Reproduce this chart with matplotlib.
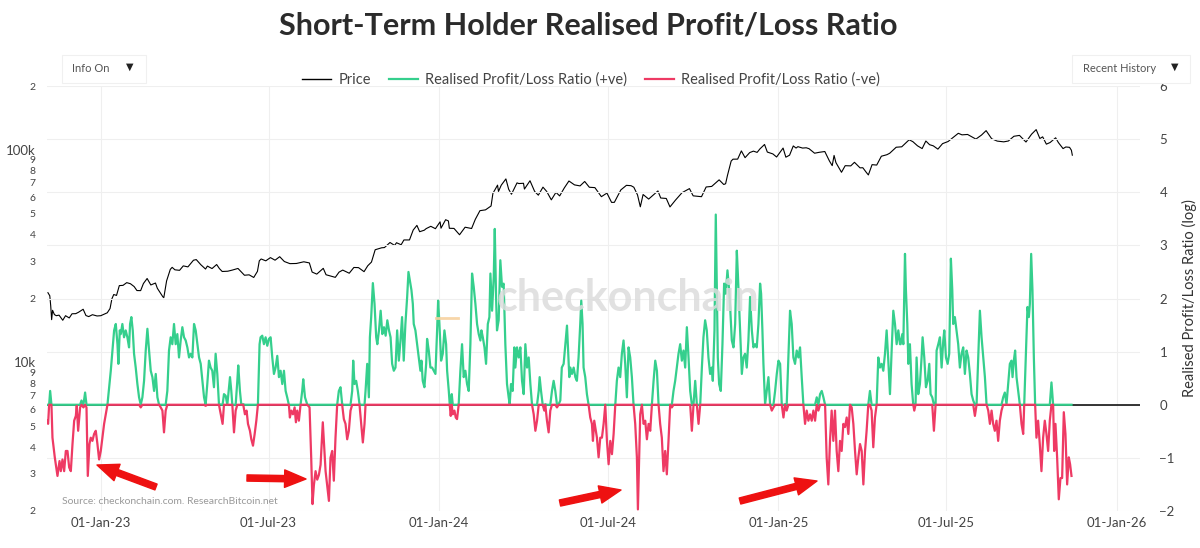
import numpy as np
import pandas as pd
import matplotlib
matplotlib.use("Agg")
import matplotlib.pyplot as plt
from matplotlib.lines import Line2D
from matplotlib.patches import FancyBboxPatch

plt.rcParams['font.family'] = ['Lato', 'DejaVu Sans']

# ---------------- data ----------------
price_dates = [
 "2022-11-05","2022-11-07","2022-11-08","2022-11-09","2022-11-10","2022-11-12","2022-11-14","2022-11-17",
 "2022-11-21","2022-11-24","2022-11-28","2022-12-01","2022-12-05","2022-12-08","2022-12-13","2022-12-16",
 "2022-12-19","2022-12-23","2022-12-28","2023-01-01","2023-01-08","2023-01-11","2023-01-13","2023-01-15",
 "2023-01-18","2023-01-21","2023-01-25","2023-01-29","2023-02-02","2023-02-06","2023-02-09","2023-02-13",
 "2023-02-16","2023-02-20","2023-02-24","2023-03-01","2023-03-03","2023-03-09","2023-03-10","2023-03-13",
 "2023-03-17","2023-03-19","2023-03-22","2023-03-27","2023-03-31","2023-04-05","2023-04-11","2023-04-14",
 "2023-04-19","2023-04-24","2023-04-26","2023-05-01","2023-05-06","2023-05-09","2023-05-12","2023-05-18",
 "2023-05-23","2023-05-29","2023-06-01","2023-06-05","2023-06-10","2023-06-15","2023-06-19","2023-06-21",
 "2023-06-23","2023-06-28","2023-07-03","2023-07-08","2023-07-13","2023-07-18","2023-07-24","2023-07-31",
 "2023-08-08","2023-08-14","2023-08-17","2023-08-22","2023-08-29","2023-09-01","2023-09-11","2023-09-15",
 "2023-09-19","2023-09-26","2023-10-01","2023-10-06","2023-10-12","2023-10-16","2023-10-20","2023-10-24",
 "2023-10-31","2023-11-03","2023-11-09","2023-11-14","2023-11-16","2023-11-21","2023-11-24","2023-11-30",
 "2023-12-04","2023-12-08","2023-12-11","2023-12-16","2023-12-18","2023-12-23","2023-12-28","2024-01-02",
 "2024-01-03","2024-01-08","2024-01-11","2024-01-12","2024-01-17","2024-01-23","2024-01-29","2024-02-05",
 "2024-02-09","2024-02-14","2024-02-20","2024-02-26","2024-02-28","2024-03-04","2024-03-05","2024-03-08",
 "2024-03-13","2024-03-16","2024-03-19","2024-03-25","2024-03-27","2024-04-01","2024-04-02","2024-04-08",
 "2024-04-13","2024-04-17","2024-04-22","2024-04-26","2024-05-01","2024-05-06","2024-05-10","2024-05-15",
 "2024-05-20","2024-05-26","2024-06-01","2024-06-06","2024-06-11","2024-06-17","2024-06-24","2024-06-30",
 "2024-07-05","2024-07-08","2024-07-15","2024-07-21","2024-07-26","2024-07-29","2024-08-02","2024-08-05",
 "2024-08-08","2024-08-14","2024-08-24","2024-08-27","2024-09-02","2024-09-06","2024-09-12","2024-09-19",
 "2024-09-27","2024-10-01","2024-10-10","2024-10-15","2024-10-21","2024-10-29","2024-11-03","2024-11-05",
 "2024-11-07","2024-11-11","2024-11-13","2024-11-18","2024-11-22","2024-11-26","2024-12-01","2024-12-05",
 "2024-12-09","2024-12-12","2024-12-17","2024-12-20","2024-12-26","2024-12-30","2025-01-06","2025-01-09",
 "2025-01-13","2025-01-17","2025-01-20","2025-01-22","2025-01-27","2025-01-31","2025-02-03","2025-02-09",
 "2025-02-14","2025-02-20","2025-02-25","2025-02-28","2025-03-02","2025-03-04","2025-03-10","2025-03-14",
 "2025-03-20","2025-03-24","2025-03-30","2025-04-02","2025-04-06","2025-04-08","2025-04-12","2025-04-17",
 "2025-04-22","2025-04-28","2025-05-01","2025-05-08","2025-05-14","2025-05-22","2025-05-26","2025-05-31",
 "2025-06-05","2025-06-09","2025-06-13","2025-06-17","2025-06-22","2025-06-27","2025-07-03","2025-07-10",
 "2025-07-14","2025-07-18","2025-07-24","2025-08-02","2025-08-08","2025-08-13","2025-08-19","2025-08-25",
 "2025-09-01","2025-09-06","2025-09-12","2025-09-18","2025-09-25","2025-10-01","2025-10-06","2025-10-10",
 "2025-10-13","2025-10-17","2025-10-21","2025-10-27","2025-10-30","2025-11-04","2025-11-07","2025-11-11",
 "2025-11-13","2025-11-14"]
price_vals = [
 21300,20600,18500,15900,17600,16800,16600,16700,15800,16600,16200,16950,16970,17230,17800,16630,
 16440,16780,16550,16600,17130,17940,19930,20880,20680,23000,23060,23750,23470,22760,21800,21780,
 23520,24840,23160,23650,22350,20360,20190,24200,27420,28030,27290,27140,28480,28170,30280,30490,
 28820,27520,28420,27660,28900,27650,26800,26880,27220,27700,26820,25730,25850,25120,26840,30080,
 30690,30080,31150,30290,31460,29860,29180,29230,29770,29410,26630,26050,27730,25870,25150,26610,
 27210,26300,27990,27950,26750,28520,29680,33920,34650,34730,36690,35540,36600,35800,37720,37720,
 41980,44170,41240,41930,42650,43720,42610,45900,42850,46970,46340,42800,42740,39900,43300,42700,
 47150,51800,52260,54500,62500,68300,63800,68300,73080,65320,61900,70000,69500,69700,65460,71640,
 63820,61280,66840,63800,58250,63160,60790,66270,71450,68500,67750,71080,66760,66500,60280,62680,
 56660,56700,64870,68160,67910,66780,61400,54020,61710,58740,64160,59420,59130,53950,58130,62950,
 65790,60840,60270,66960,67370,72340,68780,69360,75860,88700,90500,90550,98990,91990,97200,98750,
 97400,101140,106140,97760,95800,92640,102080,92480,94520,104460,102100,103650,102080,102400,101400,96540,
 97500,98330,88740,84370,94250,87200,78530,84340,84170,87500,82380,82500,78200,76300,85290,84900,
 93440,95000,96500,103000,103500,111700,109400,104600,101500,110200,105900,104600,100900,107100,109600,116000,
 119800,117800,118300,112500,117500,123300,112900,110100,109200,110200,116000,117100,109000,118600,124700,113200,
 115300,106500,108400,114100,108300,101500,103300,102900,99700,94500]

# ratio (log) readings: days since 2023-01-01
ratio_base = "2023-01-01"
ratio_days = [
 -58.2,-56.8,-55.7,-54.6,-53.2,-52.1,-49.6,-46.7,-44.5,-43.1,-41.3,-39.5,-37.7,-35.9,-34.1,-32.3,-30.5,-28.7,
 -26.9,-25.9,-24.4,-22.3,-20.8,-18.7,-16.9,-15.4,-14.0,-12.2,-10.8,-9.0,-7.2,-5.4,-3.6,-1.8,0.0,1.8,3.6,5.4,
 7.2,9.0,10.8,12.6,14.4,16.2,18.0,19.0,20.5,21.6,23.3,25.1,26.9,28.7,30.5,31.6,33.0,34.5,35.9,37.7,39.5,41.3,
 43.1,44.9,46.7,48.5,50.3,52.1,53.9,55.7,57.5,59.3,61.1,62.9,64.7,66.5,68.2,70.0,71.8,73.6,75.4,77.2,79.0,
 80.8,82.6,84.4,86.2,88.0,89.8,91.6,93.4,95.2,97.0,98.8,100.6,102.4,104.2,106.0,107.8,109.6,111.4,113.1,
 114.9,116.7,118.5,120.3,122.1,123.9,125.7,127.5,
 131.4,132.9,134.7,136.5,139.4,140.8,141.9,143.7,145.5,147.3,148.3,150.1,151.6,153.7,155.5,157.3,158.8,
 160.9,162.4,164.2,166.0,167.8,169.5,171.3,172.4,174.2,176.0,177.8,179.6,181.4,183.2,185.0,186.8,188.6,
 190.4,192.2,194.0,195.8,197.6,199.4,201.1,202.9,204.0,205.5,207.3,209.1,210.5,211.9,213.7,215.5,217.3,
 218.4,220.3,222.8,225.2,227.0,228.4,229.9,231.7,233.5,235.3,237.1,239.5,242.5,246.1,247.8,249.6,251.4,
 253.2,255.0,256.8,258.6,260.4,262.2,264.0,265.8,267.6,269.4,271.2,272.3,273.7,275.5,277.3,279.1,280.9,
 282.7,284.5,285.6,287.4,289.2,290.3,291.7,293.5,295.3,297.1,298.3,300.1,301.9,303.7,305.5,307.3,309.1,
 310.9,312.6,
 314.3,316.1,317.9,319.7,321.5,323.3,325.0,326.8,328.6,330.5,331.9,333.3,335.1,336.6,337.6,339.4,341.2,
 343.0,344.8,345.9,347.3,349.1,351.0,352.0,353.8,355.6,357.4,359.2,361.0,362.8,363.9,365.3,367.1,368.9,
 370.7,372.5,373.6,375.4,376.4,377.5,378.6,379.7,381.5,382.9,384.3,386.1,387.9,389.7,391.5,393.3,395.1,
 396.9,398.7,400.5,402.3,404.1,405.9,407.7,409.5,410.6,412.1,413.9,415.6,417.5,419.2,420.3,422.1,423.9,
 425.0,426.4,427.4,429.2,431.0,432.8,434.6,436.4,438.2,440.0,441.1,442.5,444.3,446.1,447.2,449.0,450.8,
 452.6,454.4,456.2,458.0,459.8,461.6,463.4,465.2,467.0,468.8,470.6,472.4,473.4,474.9,476.7,478.4,479.5,
 481.3,483.1,484.9,486.7,488.5,490.3,492.1,493.9,495.7,
 497.3,499.3,501.1,502.9,504.0,505.4,506.5,508.3,510.1,511.9,513.6,515.4,517.2,518.3,519.7,520.8,522.6,
 524.4,526.2,528.0,529.8,530.9,532.3,533.4,535.2,537.0,538.8,540.6,542.4,544.2,546.0,547.8,549.6,551.4,
 553.2,555.0,556.7,558.5,560.3,562.1,563.9,565.7,567.5,569.3,571.1,572.9,574.7,576.5,578.3,579.4,580.8,
 581.9,583.7,585.5,587.3,589.1,590.9,592.7,594.5,596.3,598.1,599.9,601.7,603.4,605.2,607.0,608.8,610.6,
 612.4,614.2,616.0,617.8,619.6,621.4,623.2,625.0,626.8,628.6,630.4,632.2,634.0,635.8,637.6,639.4,641.2,
 643.0,644.8,646.6,648.4,650.1,651.9,653.7,655.5,657.3,659.1,660.2,662.0,663.4,664.5,665.6,667.0,668.8,
 670.6,672.4,674.2,676.0,677.8,678.9,
 680.7,682.5,684.3,686.1,687.2,688.6,690.4,691.5,693.2,695.0,696.8,698.6,700.4,702.3,704.0,705.8,707.6,
 709.4,711.2,712.3,713.7,714.8,716.6,718.4,720.2,722.0,723.8,725.6,727.4,729.2,731.0,732.8,734.6,736.4,
 738.1,739.9,741.7,743.5,745.3,747.1,748.9,750.7,752.5,754.3,756.1,757.9,759.7,761.5,763.3,765.1,766.9,
 768.7,770.5,772.3,774.1,775.9,777.7,779.5,781.3,783.0,784.8,786.6,788.4,790.2,792.0,793.8,795.6,797.4,
 799.2,801.0,802.8,804.6,806.4,808.2,810.0,811.8,813.6,815.4,817.2,819.0,820.8,822.6,824.4,826.1,827.9,
 829.7,831.5,833.3,835.1,836.9,838.7,840.5,842.3,844.1,845.9,847.7,849.5,851.3,853.1,854.9,856.7,858.5,
 860.3,862.1,
 862.8,864.6,865.7,867.5,868.5,870.0,871.1,872.8,874.6,876.4,877.5,878.9,880.0,881.8,883.6,885.4,886.5,
 888.3,890.1,891.9,893.7,895.1,896.9,898.7,900.5,901.6,903.4,905.2,907.0,908.8,909.9,911.7,913.5,915.2,
 917.0,918.5,919.5,921.3,923.1,924.9,926.7,928.5,930.3,932.1,933.9,935.7,937.5,939.3,941.1,942.9,944.7,
 946.5,948.3,950.1,951.9,953.7,955.5,957.3,959.1,960.9,962.6,964.4,966.2,968.0,969.8,971.6,973.4,975.2,
 977.0,978.8,980.6,982.4,983.5,984.9,986.3,987.8,989.6,991.4,993.2,995.0,996.1,997.8,999.6,1001.1,1002.2,
 1003.6,1005.0,1006.5,1007.9,1009.3,1011.1,1012.9,1014.7,1016.5,1018.3,1020.1,1021.9,1023.7,1025.5,1027.3,
 1028.4,1029.8,1031.6,1033.4,1035.2,1037.0,1038.8,1040.6,1042.4,1044.2,1045.6,1047.1]
ratio_vals = [
 -0.30,-0.36,0.0,0.26,0.0,-0.62,-0.99,-1.34,-1.06,-1.25,-1.03,-1.25,-0.87,-0.87,-1.18,-1.25,-0.74,-0.30,
 -0.21,-0.02,-0.49,-0.05,0.08,-0.05,0.23,-0.05,-1.34,-0.74,-0.62,-0.68,-0.55,-0.49,-0.74,-1.03,-0.87,-0.62,-0.36,-0.18,
 0.0,0.33,0.64,1.02,1.40,1.52,1.14,0.77,1.40,1.33,1.52,1.27,1.40,1.27,1.08,1.52,1.65,1.40,0.96,0.70,0.39,0.14,
 -0.05,0.14,0.45,1.02,1.43,1.02,0.64,0.52,0.26,0.58,0.14,0.0,-0.05,-0.11,-0.52,-0.11,0.26,1.02,1.27,1.14,1.52,
 1.14,1.33,0.89,1.21,1.46,1.27,1.21,1.08,0.89,0.96,0.89,1.52,1.40,1.14,0.89,0.77,0.45,0.14,-0.02,
 0.39,0.83,0.70,0.64,0.33,0.96,0.58,0.01,
 -0.36,0.20,0.17,0.0,0.52,0.26,0.0,-0.52,-0.11,0.45,0.74,0.26,0.0,0.01,-0.18,-0.11,-0.36,
 -0.49,-0.65,-0.77,-0.55,-0.30,0.0,1.14,1.27,1.30,1.14,1.27,1.11,1.24,1.27,0.89,0.58,0.70,
 0.92,0.52,0.64,0.39,0.64,0.26,0.14,0.0,-0.24,-0.11,-0.18,-0.05,-0.33,-0.11,-0.30,0.0,0.26,
 0.48,0.14,0.0,-0.05,-1.00,-1.87,-1.51,-1.25,-1.41,-1.32,-1.13,-0.33,-1.25,-1.81,-1.00,-0.87,-1.43,
 -0.62,0.0,0.26,0.33,0.01,-0.27,-0.36,-0.65,-0.49,-0.11,0.26,0.83,0.39,0.45,0.26,0.01,-0.36,
 -0.71,-0.36,0.26,0.77,0.14,1.27,1.65,2.29,1.90,1.27,1.14,1.40,1.77,1.33,1.46,1.30,1.59,
 1.40,1.27,
 0.77,0.64,0.70,1.40,0.83,1.21,1.65,0.83,1.52,2.03,2.50,2.35,2.16,1.90,1.52,1.40,1.14,
 0.89,0.64,0.83,0.45,0.33,0.77,1.24,1.02,0.70,0.70,0.64,0.58,1.40,1.96,1.52,0.83,0.96,
 1.40,1.14,0.64,0.26,0.01,-0.21,0.20,-0.18,-0.11,-0.24,-0.27,0.01,0.64,1.14,0.52,0.64,0.39,
 0.26,1.14,2.47,2.22,1.90,1.52,1.33,1.21,1.40,1.27,1.08,0.77,1.52,1.65,2.47,1.77,2.41,
 3.31,2.03,1.40,1.59,2.72,2.22,2.28,1.14,0.39,0.14,0.01,0.39,0.26,1.08,0.70,1.08,0.89,
 1.08,0.45,0.20,1.14,0.70,0.89,0.39,0.0,-0.18,-0.49,-0.30,0.26,0.52,0.26,0.0,-0.11,0.01,
 -0.30,-0.52,-0.11,0.26,0.45,0.26,-0.05,0.01,0.08,
 0.70,0.77,1.14,1.49,1.08,0.52,0.70,0.58,0.70,0.52,0.45,0.89,1.52,1.96,1.52,0.70,0.52,
 0.20,0.0,-0.24,-0.36,-0.68,-0.30,-0.42,-0.62,-0.99,-0.62,-0.62,-0.36,0.0,-0.68,-1.12,-0.68,-0.93,
 -0.55,0.0,0.45,0.70,0.52,0.96,1.21,0.77,0.14,1.08,0.89,0.52,0.0,-0.36,-0.99,-1.97,-0.99,
 -0.18,0.0,-0.36,-0.30,-0.65,-0.36,-0.49,0.01,0.45,0.83,0.64,0.0,-0.36,-0.62,-1.25,-0.87,-1.31,
 -0.68,0.0,-0.05,0.26,0.45,0.70,0.96,1.14,0.83,1.02,0.70,1.46,0.89,0.26,-0.49,0.01,0.45,
 0.0,-0.36,0.0,0.70,1.27,1.59,1.40,0.89,0.58,0.70,0.45,1.40,3.58,2.16,0.89,0.39,0.26,
 1.14,2.28,2.09,2.53,2.16,1.84,
 1.21,1.08,1.52,2.90,2.47,1.84,1.02,0.58,0.89,0.96,0.70,1.21,2.03,1.40,1.08,1.14,1.08,
 1.52,2.28,2.09,1.40,0.77,0.01,0.26,0.52,0.0,-0.11,-0.05,0.26,0.58,0.83,0.77,0.0,-0.24,
 0.01,-0.11,0.89,1.77,1.52,0.89,0.77,1.02,0.89,1.08,0.52,0.0,-0.36,-0.11,-0.30,-0.18,-0.30,
 -0.11,-0.30,0.14,-0.11,0.20,0.26,0.14,0.0,-0.99,-1.50,-0.68,-0.11,-0.68,-0.11,-0.87,-1.25,-0.68,
 -0.87,-0.36,-0.42,-0.24,-0.55,0.0,-0.05,-0.36,-0.87,-1.31,-0.99,-0.74,-0.87,-1.50,-0.87,-0.49,0.0,
 0.26,-0.11,-0.80,-0.24,0.0,0.89,0.70,0.77,0.64,0.96,1.40,0.83,0.20,1.02,1.77,1.52,1.14,
 1.40,1.14,
 1.14,1.33,1.14,2.84,2.16,1.52,0.77,1.14,0.39,0.0,-0.11,0.01,0.89,0.20,0.39,0.89,1.27,
 0.89,0.33,0.45,0.77,0.20,0.14,-0.49,0.0,1.02,1.14,1.27,0.70,1.21,1.40,0.89,0.77,0.96,
 2.75,2.16,1.52,1.65,1.40,1.14,0.70,0.96,1.08,0.58,1.02,0.89,0.58,0.20,0.08,-0.21,0.0,
 0.89,1.77,1.27,0.89,0.52,0.0,-0.11,-0.36,-0.11,-0.36,-0.49,-0.30,-0.68,-0.30,-0.11,0.14,0.23,
 0.01,0.39,0.77,0.83,0.52,0.83,1.02,0.52,0.26,0.0,-0.36,-0.55,0.0,0.89,1.84,1.65,1.90,
 2.84,2.16,0.89,0.0,-0.62,-0.30,-0.74,-1.25,-0.62,-0.30,-0.55,-0.87,-0.30,0.42,0.0,
 -0.87,-0.36,-0.99,-1.78,-1.38,-1.38,-0.14,-0.55,-1.50,-0.99,-1.12,-1.34]

x_tick_dates = ["2023-01-01", "2023-07-01", "2024-01-01", "2024-07-01", "2025-01-01", "2025-07-01", "2026-01-01"]
x_tick_labels = ["01-Jan-23", "01-Jul-23", "01-Jan-24", "01-Jul-24", "01-Jan-25", "01-Jul-25", "01-Jan-26"]
left_ticks = [2000, 3000, 4000, 5000, 6000, 7000, 8000, 9000, 10000,
              20000, 30000, 40000, 50000, 60000, 70000, 80000, 90000, 100000, 200000]
left_labels = ["2", "3", "4", "5", "6", "7", "8", "9", "10k",
               "2", "3", "4", "5", "6", "7", "8", "9", "100k", "2"]
right_ticks = [-2, -1, 0, 1, 2, 3, 4, 5, 6]

# ---------------- figure ----------------
W, H = 1200, 548
C_GREEN = "#35cf8d"
C_PINK = "#ee3a64"
TXT = "#444444"

p_dates = pd.to_datetime(price_dates)
p_vals = np.array(price_vals, dtype=float)
r_dates = pd.Timestamp(ratio_base) + pd.to_timedelta(np.array(ratio_days), unit="D")
r_vals = np.array(ratio_vals)
r_pos = np.maximum(r_vals, 0)
r_neg = np.minimum(r_vals, 0)

fig = plt.figure(figsize=(W / 100, H / 100), dpi=100)
fig.patch.set_facecolor("white")
ax = fig.add_axes([47 / W, 1 - 511 / H, (1140 - 47) / W, (511 - 86) / H])
ax2 = ax.twinx()

# price (log, left)
ax.plot(p_dates, p_vals, color="black", lw=0.8, zorder=3)
ax.set_yscale("log")
ax.set_ylim(2000, 200000)
ax.set_yticks(left_ticks, left_labels)
ax.minorticks_off()
ax.set_yticks([], minor=True)
for lab in ax.get_yticklabels():
    lab.set_fontsize(9.5 if lab.get_text() in ("10k", "100k") else 7.5)
    lab.set_color(TXT)
ax.tick_params(axis="y", length=0, pad=8)

xlim = (pd.Timestamp("2022-11-04"), pd.Timestamp("2026-01-26"))
ax.set_xlim(*xlim)
ax.set_xticks(pd.to_datetime(x_tick_dates), x_tick_labels)
ax.tick_params(axis="x", length=0, pad=4, labelsize=9.5, labelcolor=TXT)
ax.grid(axis="x", color="#efefef", lw=0.8)
ax.set_axisbelow(True)

# ratio (right)
ax2.set_ylim(-2, 6)
ax2.set_yticks(right_ticks, [f"{v}" if v >= 0 else f"\u2212{abs(v)}" for v in right_ticks])
ax2.tick_params(axis="y", length=0, pad=14, labelsize=9.5, labelcolor=TXT)
ax2.set_axisbelow(True)
ax2.grid(axis="y", color="#efefef", lw=0.8)
ax2.axhline(0, color="black", lw=1.1, zorder=1)
ax2.plot(r_dates, r_pos, color=C_GREEN, lw=1.6, zorder=2)
ax2.plot(r_dates, r_neg, color=C_PINK, lw=1.6, zorder=3)
ax2.set_ylabel("Realised Profit/Loss Ratio (log)", fontsize=10.5, color="#333333", labelpad=5)
ax2.set_xlim(*xlim)

for a in (ax, ax2):
    for s in a.spines.values():
        s.set_visible(False)

# title
fig.text(588 / W, 1 - 26 / H, "Short-Term Holder Realised Profit/Loss Ratio",
         ha="center", va="center", fontsize=22, fontweight="bold", color="#2b2b2b")

# legend
handles = [Line2D([], [], color="black", lw=1.0),
           Line2D([], [], color=C_GREEN, lw=1.6),
           Line2D([], [], color=C_PINK, lw=1.6)]
labels = ["Price", "Realised Profit/Loss Ratio (+ve)", "Realised Profit/Loss Ratio (-ve)"]
fig.legend(handles, labels, loc="center", bbox_to_anchor=(591 / W, 1 - 80 / H), ncol=3,
           frameon=False, fontsize=10.5, handlelength=2.0, handletextpad=0.5,
           columnspacing=1.2, labelcolor="#444444")

# dropdown boxes
for (x0, x1, txt, tx, ax_x) in [(62, 146, "Info On", 72, 130), (1072, 1190, "Recent History", 1083, 1175)]:
    fig.add_artist(FancyBboxPatch((x0 / W, 1 - 83 / H), (x1 - x0) / W, 28 / H,
                                  boxstyle="square,pad=0", transform=fig.transFigure,
                                  facecolor="white", edgecolor="#f0f0f0", lw=0.8))
    fig.text(tx / W, 1 - 68 / H, txt, ha="left", va="center", fontsize=8, color="#555555")
    fig.text(ax_x / W, 1 - 67 / H, "\u25BC", ha="center", va="center", fontsize=7,
             color="#222222", family=["DejaVu Sans"])

# watermark
fig.text(628 / W, 1 - 298 / H, "checkonchain", ha="center", va="center", fontsize=31,
         fontweight="bold", color="#dcdcdc", alpha=0.85, zorder=0)
fig.add_artist(Line2D([436 / W, 458 / W], [1 - 318 / H, 1 - 318 / H], transform=fig.transFigure,
                      color="#f7d2a0", lw=2.0, alpha=0.9))

# source
fig.text(62 / W, 1 - 501 / H, "Source: checkonchain.com. ResearchBitcoin.net", ha="left",
         va="center", fontsize=7.5, color="#9a9a9a")

# red annotation arrows (image pixel coords)
arrows = [((156, 487), (97, 465)), ((247, 478), (306, 479)),
          ((560, 503), (621, 490)), ((740, 501), (817, 481))]
for (tail, tip) in arrows:
    ax.annotate("", xy=(tip[0], H - tip[1]), xycoords="figure pixels",
                xytext=(tail[0], H - tail[1]), textcoords="figure pixels",
                arrowprops=dict(arrowstyle="simple,head_width=0.9,head_length=1.1,tail_width=0.32",
                                color="#ee1111", mutation_scale=14, shrinkA=0, shrinkB=0),
                annotation_clip=False)

fig.savefig("out.png", dpi=100, facecolor="white")
